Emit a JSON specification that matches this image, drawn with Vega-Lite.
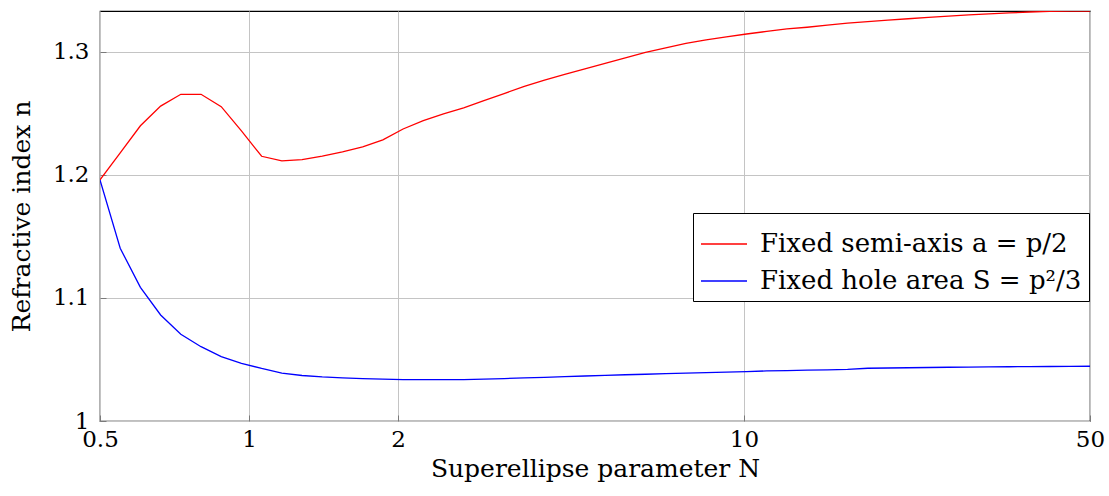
{
  "$schema": "https://vega.github.io/schema/vega-lite/v6.json",
  "width": 990,
  "height": 410,
  "autosize": "none",
  "padding": {"left": 100, "top": 11, "right": 19, "bottom": 75},
  "background": "white",
  "config": {
    "view": {"stroke": "black", "strokeWidth": 1.2},
    "font": "DejaVu Serif",
    "axis": {
      "labelFont": "DejaVu Serif",
      "titleFont": "DejaVu Serif",
      "labelColor": "black",
      "titleColor": "black",
      "labelFontSize": 23,
      "titleFontSize": 25,
      "titleFontWeight": "normal",
      "domain": false,
      "ticks": true,
      "tickSize": -6,
      "tickColor": "#7a7a7a",
      "tickWidth": 1,
      "grid": true,
      "gridColor": "#c4c4c4",
      "gridWidth": 1,
      "labelFlush": false
    },
    "legend": {
      "labelFont": "DejaVu Serif",
      "labelFontSize": 26,
      "labelColor": "black",
      "labelLimit": 500
    }
  },
  "data": {
    "values": [
      {"N": 0.5, "n": 1.196, "series": "Fixed semi-axis a = p/2"},
      {"N": 0.5493, "n": 1.218, "series": "Fixed semi-axis a = p/2"},
      {"N": 0.6034, "n": 1.240, "series": "Fixed semi-axis a = p/2"},
      {"N": 0.6629, "n": 1.256, "series": "Fixed semi-axis a = p/2"},
      {"N": 0.7282, "n": 1.2656, "series": "Fixed semi-axis a = p/2"},
      {"N": 0.8, "n": 1.2656, "series": "Fixed semi-axis a = p/2"},
      {"N": 0.8788, "n": 1.2555, "series": "Fixed semi-axis a = p/2"},
      {"N": 0.9654, "n": 1.2358, "series": "Fixed semi-axis a = p/2"},
      {"N": 1.0605, "n": 1.2152, "series": "Fixed semi-axis a = p/2"},
      {"N": 1.165, "n": 1.2114, "series": "Fixed semi-axis a = p/2"},
      {"N": 1.2798, "n": 1.2124, "series": "Fixed semi-axis a = p/2"},
      {"N": 1.4059, "n": 1.2154, "series": "Fixed semi-axis a = p/2"},
      {"N": 1.5445, "n": 1.2188, "series": "Fixed semi-axis a = p/2"},
      {"N": 1.6967, "n": 1.2228, "series": "Fixed semi-axis a = p/2"},
      {"N": 1.8639, "n": 1.2285, "series": "Fixed semi-axis a = p/2"},
      {"N": 2.0476, "n": 1.2374, "series": "Fixed semi-axis a = p/2"},
      {"N": 2.2493, "n": 1.2441, "series": "Fixed semi-axis a = p/2"},
      {"N": 2.471, "n": 1.2496, "series": "Fixed semi-axis a = p/2"},
      {"N": 2.7144, "n": 1.2545, "series": "Fixed semi-axis a = p/2"},
      {"N": 2.9819, "n": 1.2604, "series": "Fixed semi-axis a = p/2"},
      {"N": 3.2757, "n": 1.2662, "series": "Fixed semi-axis a = p/2"},
      {"N": 3.5985, "n": 1.2720, "series": "Fixed semi-axis a = p/2"},
      {"N": 3.9531, "n": 1.2772, "series": "Fixed semi-axis a = p/2"},
      {"N": 4.3426, "n": 1.2817, "series": "Fixed semi-axis a = p/2"},
      {"N": 4.7705, "n": 1.2862, "series": "Fixed semi-axis a = p/2"},
      {"N": 5.2405, "n": 1.2907, "series": "Fixed semi-axis a = p/2"},
      {"N": 5.7569, "n": 1.2951, "series": "Fixed semi-axis a = p/2"},
      {"N": 6.3242, "n": 1.2996, "series": "Fixed semi-axis a = p/2"},
      {"N": 6.9473, "n": 1.3033, "series": "Fixed semi-axis a = p/2"},
      {"N": 7.6318, "n": 1.3069, "series": "Fixed semi-axis a = p/2"},
      {"N": 8.3838, "n": 1.3098, "series": "Fixed semi-axis a = p/2"},
      {"N": 9.2099, "n": 1.3122, "series": "Fixed semi-axis a = p/2"},
      {"N": 10.118, "n": 1.3146, "series": "Fixed semi-axis a = p/2"},
      {"N": 11.114, "n": 1.3167, "series": "Fixed semi-axis a = p/2"},
      {"N": 12.209, "n": 1.3187, "series": "Fixed semi-axis a = p/2"},
      {"N": 13.412, "n": 1.3201, "series": "Fixed semi-axis a = p/2"},
      {"N": 14.734, "n": 1.3218, "series": "Fixed semi-axis a = p/2"},
      {"N": 16.186, "n": 1.3234, "series": "Fixed semi-axis a = p/2"},
      {"N": 17.783, "n": 1.3246, "series": "Fixed semi-axis a = p/2"},
      {"N": 19.534, "n": 1.3258, "series": "Fixed semi-axis a = p/2"},
      {"N": 21.458, "n": 1.3270, "series": "Fixed semi-axis a = p/2"},
      {"N": 23.573, "n": 1.3281, "series": "Fixed semi-axis a = p/2"},
      {"N": 25.896, "n": 1.3291, "series": "Fixed semi-axis a = p/2"},
      {"N": 28.447, "n": 1.3301, "series": "Fixed semi-axis a = p/2"},
      {"N": 31.25, "n": 1.3310, "series": "Fixed semi-axis a = p/2"},
      {"N": 34.33, "n": 1.3317, "series": "Fixed semi-axis a = p/2"},
      {"N": 37.712, "n": 1.3325, "series": "Fixed semi-axis a = p/2"},
      {"N": 41.428, "n": 1.3330, "series": "Fixed semi-axis a = p/2"},
      {"N": 45.51, "n": 1.3332, "series": "Fixed semi-axis a = p/2"},
      {"N": 50, "n": 1.3333, "series": "Fixed semi-axis a = p/2"},
      {"N": 0.5, "n": 1.196, "series": "Fixed hole area S = p²/3"},
      {"N": 0.5493, "n": 1.1404, "series": "Fixed hole area S = p²/3"},
      {"N": 0.6034, "n": 1.1087, "series": "Fixed hole area S = p²/3"},
      {"N": 0.6629, "n": 1.0862, "series": "Fixed hole area S = p²/3"},
      {"N": 0.7282, "n": 1.0705, "series": "Fixed hole area S = p²/3"},
      {"N": 0.8, "n": 1.0604, "series": "Fixed hole area S = p²/3"},
      {"N": 0.8788, "n": 1.0523, "series": "Fixed hole area S = p²/3"},
      {"N": 0.9654, "n": 1.0469, "series": "Fixed hole area S = p²/3"},
      {"N": 1.0605, "n": 1.0427, "series": "Fixed hole area S = p²/3"},
      {"N": 1.165, "n": 1.0390, "series": "Fixed hole area S = p²/3"},
      {"N": 1.2798, "n": 1.0370, "series": "Fixed hole area S = p²/3"},
      {"N": 1.4059, "n": 1.0358, "series": "Fixed hole area S = p²/3"},
      {"N": 1.5445, "n": 1.0350, "series": "Fixed hole area S = p²/3"},
      {"N": 1.6967, "n": 1.0344, "series": "Fixed hole area S = p²/3"},
      {"N": 1.8639, "n": 1.0340, "series": "Fixed hole area S = p²/3"},
      {"N": 2.0476, "n": 1.0337, "series": "Fixed hole area S = p²/3"},
      {"N": 2.2493, "n": 1.0336, "series": "Fixed hole area S = p²/3"},
      {"N": 2.471, "n": 1.0336, "series": "Fixed hole area S = p²/3"},
      {"N": 2.7144, "n": 1.0337, "series": "Fixed hole area S = p²/3"},
      {"N": 2.9819, "n": 1.0340, "series": "Fixed hole area S = p²/3"},
      {"N": 3.2757, "n": 1.0345, "series": "Fixed hole area S = p²/3"},
      {"N": 3.5985, "n": 1.0350, "series": "Fixed hole area S = p²/3"},
      {"N": 3.9531, "n": 1.0355, "series": "Fixed hole area S = p²/3"},
      {"N": 4.3426, "n": 1.0360, "series": "Fixed hole area S = p²/3"},
      {"N": 4.7705, "n": 1.0366, "series": "Fixed hole area S = p²/3"},
      {"N": 5.2405, "n": 1.0371, "series": "Fixed hole area S = p²/3"},
      {"N": 5.7569, "n": 1.0376, "series": "Fixed hole area S = p²/3"},
      {"N": 6.3242, "n": 1.0380, "series": "Fixed hole area S = p²/3"},
      {"N": 6.9473, "n": 1.0385, "series": "Fixed hole area S = p²/3"},
      {"N": 7.6318, "n": 1.0390, "series": "Fixed hole area S = p²/3"},
      {"N": 8.3838, "n": 1.0394, "series": "Fixed hole area S = p²/3"},
      {"N": 9.2099, "n": 1.0398, "series": "Fixed hole area S = p²/3"},
      {"N": 10.118, "n": 1.0402, "series": "Fixed hole area S = p²/3"},
      {"N": 11.114, "n": 1.0407, "series": "Fixed hole area S = p²/3"},
      {"N": 12.209, "n": 1.0410, "series": "Fixed hole area S = p²/3"},
      {"N": 13.412, "n": 1.0413, "series": "Fixed hole area S = p²/3"},
      {"N": 14.734, "n": 1.0416, "series": "Fixed hole area S = p²/3"},
      {"N": 16.186, "n": 1.0420, "series": "Fixed hole area S = p²/3"},
      {"N": 17.783, "n": 1.0429, "series": "Fixed hole area S = p²/3"},
      {"N": 19.534, "n": 1.0431, "series": "Fixed hole area S = p²/3"},
      {"N": 21.458, "n": 1.0433, "series": "Fixed hole area S = p²/3"},
      {"N": 23.573, "n": 1.0435, "series": "Fixed hole area S = p²/3"},
      {"N": 25.896, "n": 1.0437, "series": "Fixed hole area S = p²/3"},
      {"N": 28.447, "n": 1.0438, "series": "Fixed hole area S = p²/3"},
      {"N": 31.25, "n": 1.0440, "series": "Fixed hole area S = p²/3"},
      {"N": 34.33, "n": 1.0441, "series": "Fixed hole area S = p²/3"},
      {"N": 37.712, "n": 1.0442, "series": "Fixed hole area S = p²/3"},
      {"N": 41.428, "n": 1.0443, "series": "Fixed hole area S = p²/3"},
      {"N": 45.51, "n": 1.0444, "series": "Fixed hole area S = p²/3"},
      {"N": 50, "n": 1.0445, "series": "Fixed hole area S = p²/3"}
    ]
  },
  "mark": {"type": "line", "strokeWidth": 1.3, "clip": true},
  "encoding": {
    "x": {
      "field": "N",
      "type": "quantitative",
      "scale": {"type": "log", "domain": [0.5, 50], "nice": false},
      "axis": {
        "values": [0.5, 1, 2, 10, 50],
        "format": "~g",
        "labelPadding": 13,
        "labelOverlap": false,
        "title": "Superellipse parameter N",
        "titlePadding": 5
      }
    },
    "y": {
      "field": "n",
      "type": "quantitative",
      "scale": {"domain": [1, 1.3333], "nice": false, "zero": false},
      "axis": {
        "values": [1, 1.1, 1.2, 1.3],
        "format": "~g",
        "labelPadding": 17,
        "labelOverlap": false,
        "title": "Refractive index n",
        "titlePadding": 18
      }
    },
    "color": {
      "field": "series",
      "type": "nominal",
      "scale": {
        "domain": ["Fixed semi-axis a = p/2", "Fixed hole area S = p²/3"],
        "range": ["#ff0000", "#0000ff"]
      },
      "legend": {
        "title": null,
        "orient": "none",
        "legendX": 593,
        "legendY": 202,
        "strokeColor": "black",
        "fillColor": "white",
        "padding": 7,
        "symbolType": "stroke",
        "symbolSize": 2116,
        "symbolStrokeWidth": 1.5,
        "rowPadding": 0,
        "labelOffset": 12
      }
    }
  }
}
